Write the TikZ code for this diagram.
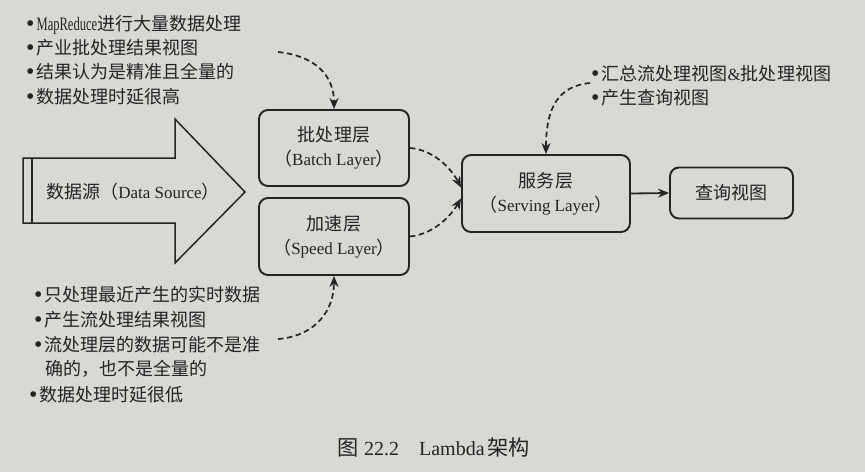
\documentclass[tikz,border=0pt]{standalone}
\usepackage{fontspec}
\usepackage{graphicx}
\setmainfont{Liberation Serif}
\newfontfamily\cjkf[Scale=1.06]{Noto Sans CJK SC}
\newcommand\zhs[1]{{\cjkf #1}}
\newcommand\bul{{\fontsize{24}{24}\selectfont\raisebox{-0.5pt}{\textbullet}}\hspace{2pt}}
\usetikzlibrary{arrows.meta}
\definecolor{pagebg}{RGB}{216,216,213}
\definecolor{ink}{RGB}{36,36,36}
\begin{document}
\begin{tikzpicture}[x=1pt,y=-1pt,
  every node/.style={text=ink,font=\fontsize{17}{24}\selectfont},
  layer/.style={draw=ink,line width=1.9pt,rounded corners=9pt,fill=pagebg,align=center,inner sep=0pt},
  note/.style={anchor=west,inner sep=0pt},
  dflow/.style={draw=ink,line width=1.7pt,dash pattern=on 5.5pt off 3.5pt,-{Stealth[length=11pt,width=9pt]}},
  sflow/.style={draw=ink,line width=1.8pt,-{Stealth[length=11pt,width=9pt]}}]
\fill[pagebg] (0,0) rectangle (865,472);
\useasboundingbox (0,0) rectangle (865,472);

% big data-source arrow
\draw[draw=ink,line width=1.5pt] (23,158) -- (175,158) -- (175,119) -- (245,192) -- (175,263) -- (175,223) -- (23,223) -- cycle;
\draw[ink,line width=1.5pt] (32,158) -- (32,223);
\node (src) at (133,192) {\zhs{数据源（}Data Source\zhs{）}};

% layers
\node[layer,minimum width=150pt,minimum height=76pt] (batch) at (334,148) {\zhs{批处理层}\\\zhs{（}Batch Layer\zhs{）}};
\node[layer,minimum width=150pt,minimum height=77pt] (speed) at (334,236.5) {\zhs{加速层}\\\zhs{（}Speed Layer\zhs{）}};
\node[layer,minimum width=168pt,minimum height=77pt] (serving) at (546,193.5) {\zhs{服务层}\\\zhs{（}Serving Layer\zhs{）}};
\node[layer,minimum width=123pt,minimum height=51pt] (query) at (731.5,193) {\zhs{查询视图}};

% notes top-left
\node[note] (t1) at (26,25) {\bul\scalebox{0.66}[1]{\fontsize{19}{24}\selectfont MapReduce}\zhs{进行大量数据处理}};
\node[note] (t2) at (26,48) {\bul\zhs{产业批处理结果视图}};
\node[note] (t3) at (26,72) {\bul\zhs{结果认为是精准且全量的}};
\node[note] (t4) at (26,97) {\bul\zhs{数据处理时延很高}};

% notes top-right
\node[note] (r1) at (591,74) {\bul\zhs{汇总流处理视图}\&\zhs{批处理视图}};
\node[note] (r2) at (591,98) {\bul\zhs{产生查询视图}};

% notes bottom-left
\node[note] (b1) at (34,295) {\bul\zhs{只处理最近产生的实时数据}};
\node[note] (b2) at (34,320) {\bul\zhs{产生流处理结果视图}};
\node[note] (b3) at (34,345) {\bul\zhs{流处理层的数据可能不是准}};
\node[note] (b4) at (45,369) {\zhs{确的，也不是全量的}};
\node[note] (b5) at (29,395) {\bul\zhs{数据处理时延很低}};

% caption
\node[font=\fontsize{20}{24}\selectfont] (cap) at (434,447) {\zhs{图}\hspace{5pt}22.2\hspace{20pt}Lambda\hspace{3pt}\zhs{架构}};

% connectors
\coordinate (c1) at (278,52);
\coordinate (c2) at (590,83);
\coordinate (c3) at (278,339);
\draw[dflow] (c1) .. controls (316,56) and (334,76) .. (batch.north);
\draw[dflow] (c2) .. controls (558,86) and (546,108) .. (serving.north);
\draw[dflow] (c3) .. controls (316,336) and (334,310) .. (speed.south);
\draw[dflow] (batch.east) .. controls (435,150) and (452,170) .. ([yshift=6pt]serving.west);
\draw[dflow] (speed.east) .. controls (435,234) and (452,214) .. ([yshift=-5pt]serving.west);
\draw[sflow] (serving.east) -- (query.west);
\end{tikzpicture}
\end{document}
